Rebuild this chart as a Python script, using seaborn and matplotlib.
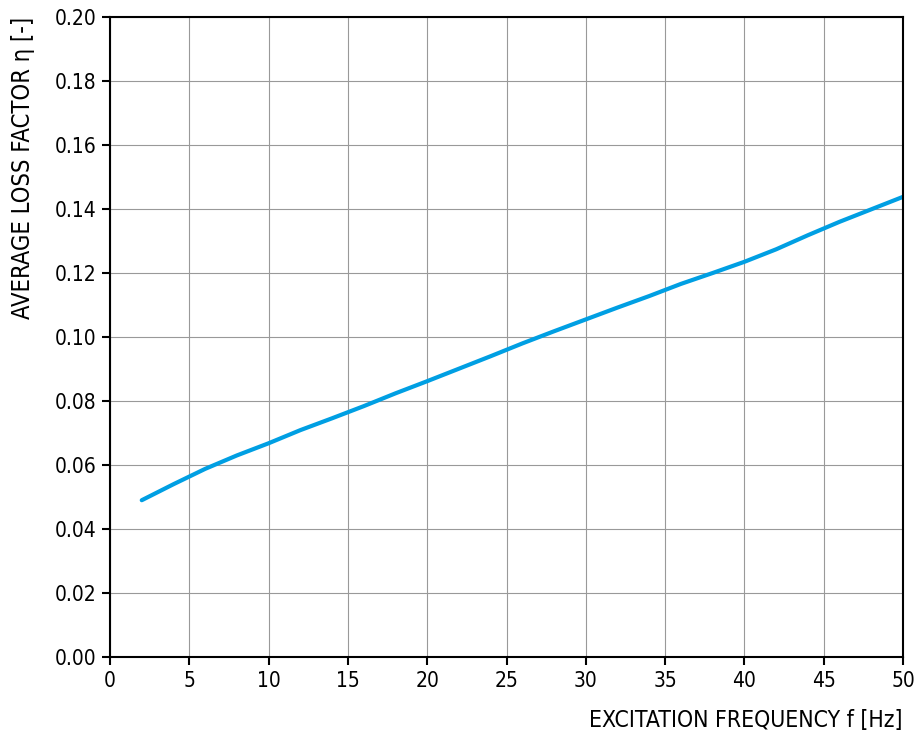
import matplotlib
matplotlib.use('Agg')
import matplotlib.pyplot as plt
import seaborn as sns
import pandas as pd

# excitation frequency [Hz] and average loss factor
freq = [2, 4, 6, 8, 10, 12, 14, 16, 18, 20, 22, 24, 26,
        28, 30, 32, 34, 36, 38, 40, 42, 44, 46, 48, 50]
loss = [0.0490, 0.0540, 0.0588, 0.0630, 0.0668, 0.0709, 0.0746, 0.0784,
        0.0824, 0.0862, 0.0901, 0.0940, 0.0980, 0.1018, 0.1055, 0.1092,
        0.1128, 0.1166, 0.1200, 0.1235, 0.1274, 0.1318, 0.1360, 0.1399,
        0.1438]

x_ticks = [0, 5, 10, 15, 20, 25, 30, 35, 40, 45, 50]
y_ticks = [0.00, 0.02, 0.04, 0.06, 0.08, 0.10, 0.12, 0.14, 0.16, 0.18, 0.20]

df = pd.DataFrame({'f': freq, 'eta': loss})

sns.set_style('white')
plt.rcParams['font.family'] = ['DejaVu Sans']
plt.rcParams['font.stretch'] = 'condensed'
plt.rcParams['text.color'] = 'black'

fig = plt.figure(figsize=(9.17, 7.36), dpi=100)
ax = fig.add_axes([0.12, 0.1073, 0.8647, 0.8696])

sns.lineplot(data=df, x='f', y='eta', color='#009fe3', linewidth=3.0, ax=ax)

ax.set_xlim(0, 50)
ax.set_ylim(0, 0.20)
ax.set_xticks(x_ticks)
ax.set_yticks(y_ticks)
ax.set_xticklabels([str(t) for t in x_ticks])
ax.set_yticklabels(['%.2f' % t for t in y_ticks])
ax.grid(True, color='#999999', linewidth=0.8)
ax.set_axisbelow(True)
for s in ax.spines.values():
    s.set_color('black')
    s.set_linewidth(1.5)
ax.tick_params(axis='both', direction='out', length=6, width=1.5,
               color='black', labelcolor='black', labelsize=15, pad=4,
               left=True, bottom=True)

ax.set_xlabel('')
ax.set_ylabel('')
fig.text(0.9847, 0.005, 'EXCITATION FREQUENCY f [Hz]', ha='right', va='bottom',
         fontsize=16.5)
fig.text(0.012, 0.977, 'AVERAGE LOSS FACTOR η [-]', ha='left', va='top',
         rotation=90, fontsize=17)

fig.savefig('out.png', dpi=100)
